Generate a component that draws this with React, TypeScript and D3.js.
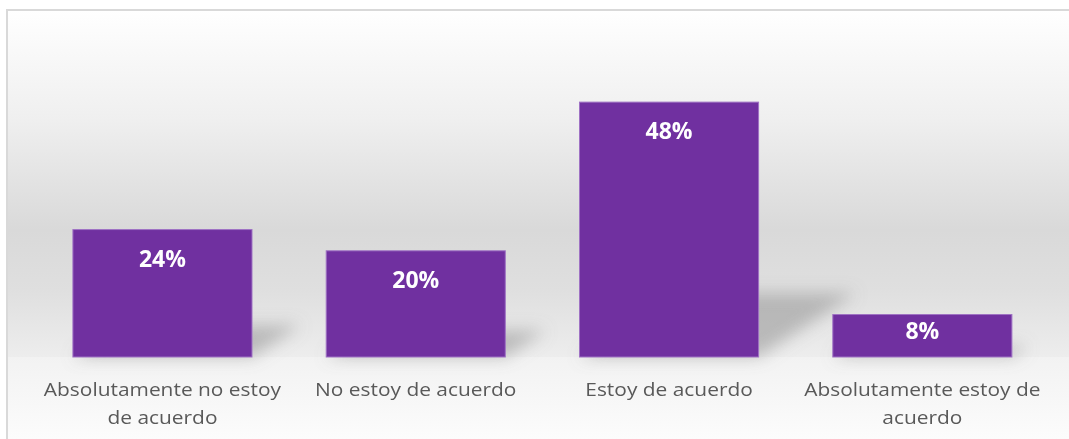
import React from "react";
import * as d3 from "d3";

const categories: string[][] = [
  ["Absolutamente no estoy", "de acuerdo"],
  ["No estoy de acuerdo"],
  ["Estoy de acuerdo"],
  ["Absolutamente estoy de", "acuerdo"],
];
const values: number[] = [0.24, 0.2, 0.48, 0.08];
const valueLabels: string[] = ["24%", "20%", "48%", "8%"];

const W = 1069;
const H = 439;
const baseline = 357;

export default function App() {
  const x = d3
    .scaleBand<number>()
    .domain(values.map((_, i) => i))
    .range([35.8, 1049])
    .paddingInner(0.293)
    .paddingOuter(0.1465);
  const y = d3.scaleLinear().domain([0, 0.6]).range([baseline, 38.4]);
  const bw = x.bandwidth();

  return (
    <svg
      width={W}
      height={H}
      style={{ position: "absolute", left: 0, top: 0, display: "block" }}
    >
      <defs>
        <linearGradient id="bg" gradientUnits="userSpaceOnUse" x1="0" y1="10" x2="0" y2="439">
          <stop offset={0} stopColor="#ffffff" />
          <stop offset={(120 - 10) / 429} stopColor="#efefef" />
          <stop offset={(230 - 10) / 429} stopColor="#d9d9d9" />
          <stop offset={(290 - 10) / 429} stopColor="#dfdfdf" />
          <stop offset={(357 - 10) / 429} stopColor="#ededed" />
          <stop offset={(357 - 10) / 429} stopColor="#f2f2f2" />
          <stop offset={1} stopColor="#fcfcfc" />
        </linearGradient>
        <filter id="blur" x="-50%" y="-50%" width="200%" height="200%">
          <feGaussianBlur stdDeviation="8" />
        </filter>
      </defs>
      <rect x={0} y={0} width={W} height={H} fill="#ffffff" />
      <rect x={7} y={10} width={W + 10} height={H + 10} fill="url(#bg)" stroke="#d9d9d9" strokeWidth={2} />
      <g filter="url(#blur)">
        {values.map((v, i) => {
          const x0 = x(i)!;
          const x1 = x0 + bw;
          const h = baseline - y(v);
          const dx = 0.38 * h;
          const dy = 0.25 * h;
          const pts = [
            [x0, baseline],
            [x1, baseline],
            [x1 + dx, baseline - dy],
            [x0 + dx, baseline - dy],
          ]
            .map((p) => p.join(","))
            .join(" ");
          return <polygon key={i} points={pts} fill="#8c8c8c" opacity={0.5} />;
        })}
      </g>
      {values.map((v, i) => (
        <rect
          key={i}
          x={x(i)!}
          y={y(v)}
          width={bw}
          height={baseline - y(v)}
          fill="#7030A0"
          stroke="#9f72c4"
          strokeWidth={1}
        />
      ))}
      {values.map((v, i) => {
        const top = y(v);
        const cy = Math.min(top + 29, (top + baseline) / 2 - 5);
        return (
          <text
            key={i}
            x={x(i)! + bw / 2}
            y={cy}
            dy="0.35em"
            textAnchor="middle"
            fill="#ffffff"
            fontFamily="'Open Sans', sans-serif"
            fontWeight="bold"
            fontSize={23}
          >
            {valueLabels[i]}
          </text>
        );
      })}
      {categories.map((lines, i) => {
        const cx = x(i)! + bw / 2;
        return (
          <text
            key={i}
            transform={`translate(${cx},0) scale(1.1,1)`}
            textAnchor="middle"
            fill="#595959"
            fontFamily="'Open Sans', sans-serif"
            fontSize={19}
          >
            {lines.map((l, j) => (
              <tspan key={j} x={0} y={389 + j * 28} dy="0.35em">
                {l}
              </tspan>
            ))}
          </text>
        );
      })}
    </svg>
  );
}
